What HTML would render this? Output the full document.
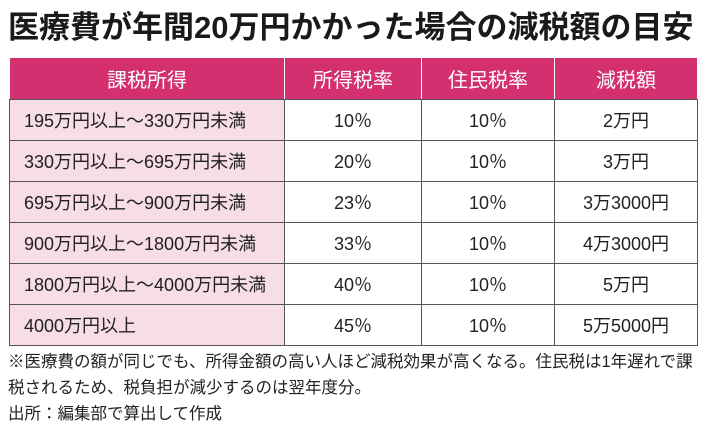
<!DOCTYPE html>
<html><head><meta charset="utf-8"><style>
body{margin:0;width:710px;height:426px;background:#fff;overflow:hidden;font-family:"Liberation Sans","Noto Sans CJK JP",sans-serif;color:#222;position:relative}
#title{position:absolute;left:8px;top:2px;font-size:31px;font-weight:bold;white-space:nowrap;color:#1a1a1a}
table{position:absolute;left:9px;top:57px;border-collapse:collapse;width:689px}
th{background:#d4306f;color:#fff;font-weight:normal;font-size:20px;height:41px;border:1px solid #fff;border-bottom:1px solid #555;padding:0}
td{height:40px;border:1px solid #555;font-size:18px;text-align:center;padding:0}
td.f{background:#f7dde6;text-align:left;padding-left:14px}
.note{position:absolute;left:8px;font-size:16.5px;white-space:nowrap}
</style></head><body>
<div id="title">医療費が年間20万円かかった場合の減税額の目安</div>
<table>
<tr><th style="width:274px">課税所得</th><th style="width:136px">所得税率</th><th style="width:132px">住民税率</th><th>減税額</th></tr>
<tr><td class="f">195万円以上～330万円未満</td><td>10％</td><td>10％</td><td>2万円</td></tr>
<tr><td class="f">330万円以上～695万円未満</td><td>20％</td><td>10％</td><td>3万円</td></tr>
<tr><td class="f">695万円以上～900万円未満</td><td>23％</td><td>10％</td><td>3万3000円</td></tr>
<tr><td class="f">900万円以上～1800万円未満</td><td>33％</td><td>10％</td><td>4万3000円</td></tr>
<tr><td class="f">1800万円以上～4000万円未満</td><td>40％</td><td>10％</td><td>5万円</td></tr>
<tr><td class="f">4000万円以上</td><td>45％</td><td>10％</td><td>5万5000円</td></tr>
</table>
<div class="note" style="top:348px">※医療費の額が同じでも、所得金額の高い人ほど減税効果が高くなる。住民税は1年遅れで課</div>
<div class="note" style="top:374px">税されるため、税負担が減少するのは翌年度分。</div>
<div class="note" style="top:400px">出所：編集部で算出して作成</div>
</body></html>
